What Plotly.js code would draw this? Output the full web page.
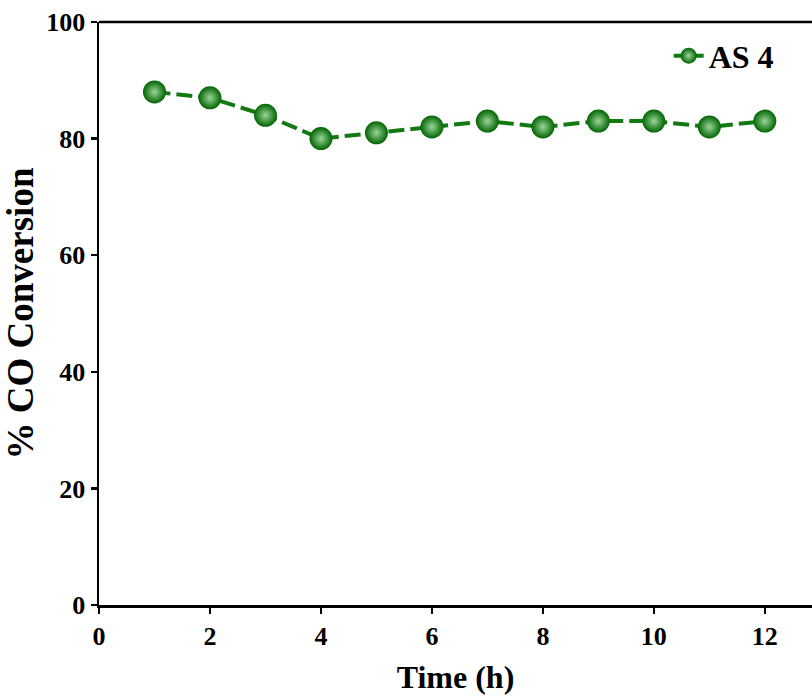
<!DOCTYPE html>
<html><head><meta charset="utf-8">
<script src="https://cdn.plot.ly/plotly-3.0.1.min.js"></script>
<style>body{margin:0;background:#fff}#c{width:812px;height:696px}</style>
</head><body><div id="c"></div>
<script>
const timeH = [1,2,3,4,5,6,7,8,9,10,11,12];
const coConversion = [88,87,84,80,81,82,83,82,83,83,82,83];
const seriesName = 'AS 4';
const xTicks = [0,2,4,6,8,10,12];
const yTicks = [0,20,40,60,80,100];

const font = 'Liberation Serif, Times New Roman, serif';
const trace = {
  x: timeH, y: coConversion, name: seriesName, type: 'scatter', mode: 'lines+markers',
  line: {color: '#137a13', width: 4, dash: '16px,6px'},
  marker: {size: 23, color: '#006400', gradient: {type: 'radial', color: '#9ad69a'},
           line: {width: 0}}
};
const layout = {
  width: 812, height: 696,
  margin: {l: 99, r: 0, t: 22, b: 91},
  paper_bgcolor: '#fff', plot_bgcolor: '#fff',
  showlegend: true,
  legend: {x: 0.799, y: 0.989, xanchor: 'left', yanchor: 'top', bgcolor: 'rgba(0,0,0,0)',
           font: {family: font, size: 32, color: '#000', weight: 'bold'}},
  xaxis: {range: [0, 12.85], tickvals: xTicks, ticktext: xTicks.map(String),
          showgrid: false, zeroline: false, showline: true, linecolor: '#000', linewidth: 2.5,
          mirror: false, ticks: 'outside', ticklen: 6, tickwidth: 2.5, tickcolor: '#000',
          tickfont: {family: font, size: 26, color: '#000', weight: 'bold'},
          title: {text: 'Time (h)', font: {family: font, size: 32, color: '#000', weight: 'bold'}, standoff: 16}},
  yaxis: {range: [0, 100], tickvals: yTicks, ticktext: yTicks.map(String),
          showgrid: false, zeroline: false, showline: true, linecolor: '#000', linewidth: 2.5,
          ticks: 'outside', ticklen: 6, tickwidth: 2.5, tickcolor: '#000',
          tickfont: {family: font, size: 26, color: '#000', weight: 'bold'},
          title: {text: '% CO Conversion', font: {family: font, size: 37, color: '#000', weight: 'bold'}, standoff: 12}},
  shapes: [{type: 'line', xref: 'paper', yref: 'paper', x0: 0, x1: 1, y0: 1, y1: 1,
            line: {color: '#000', width: 2.5}}]
};
Plotly.newPlot('c', [trace], layout, {displayModeBar: false, staticPlot: true});
</script></body></html>
